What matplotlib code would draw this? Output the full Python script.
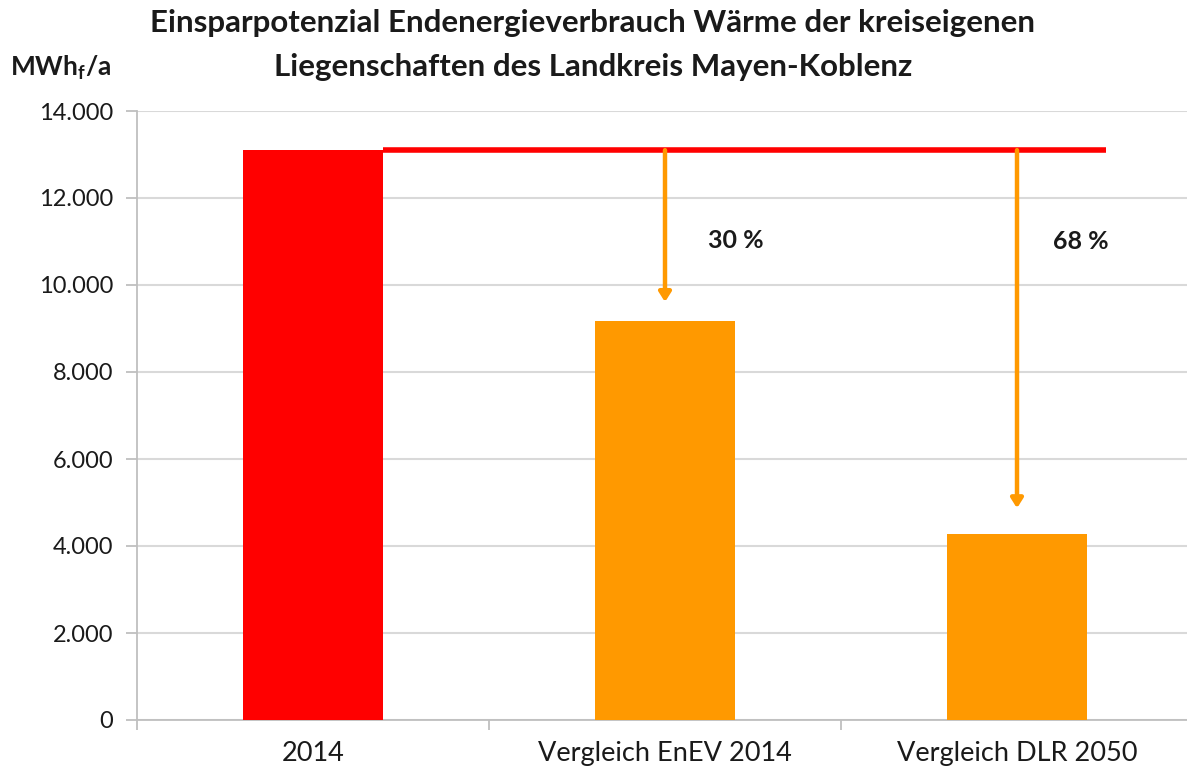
import numpy as np
import matplotlib.pyplot as plt

# chart data
categories = ['2014', 'Vergleich EnEV 2014', 'Vergleich DLR 2050']
verbrauch = [13100, 9170, 4280]
bar_colors = ['#ff0000', '#ff9900', '#ff9900']
arrow_tips = [9610, 4870]
prozent = ['30 %', '68 %']
yticks = [0, 2000, 4000, 6000, 8000, 10000, 12000, 14000]
ytick_labels = ['0', '2.000', '4.000', '6.000', '8.000', '10.000', '12.000', '14.000']

plt.rcParams['font.family'] = ['Lato', 'DejaVu Sans']
plt.rcParams['mathtext.fontset'] = 'custom'
plt.rcParams['mathtext.bf'] = 'Lato:bold'
plt.rcParams['mathtext.rm'] = 'Lato'

fig = plt.figure(figsize=(11.87, 7.74), dpi=100)
ax = fig.add_axes([137 / 1187, 54 / 774, 1056 / 1187, 609 / 774])

x = np.arange(len(categories))
ax.bar(x, verbrauch, width=0.4, color=bar_colors, zorder=3)

# reference line at 2014 level
ax.plot([0.2, 2.253], [verbrauch[0], verbrauch[0]], color='#ff0000', lw=4, zorder=4,
        solid_capstyle='butt')

# arrows down to the savings
for i, tip in enumerate(arrow_tips):
    ax.annotate('', xy=(x[i + 1], tip), xytext=(x[i + 1], verbrauch[0]),
                arrowprops=dict(arrowstyle='-|>,head_length=0.55,head_width=0.35',
                                color='#ff9900', lw=3.2, shrinkA=0, shrinkB=0),
                zorder=4)

ax.text(1.2, 11030, prozent[0], ha='center', va='center', fontsize=18,
        fontweight='bold', color='#1a1a1a')
ax.text(2.18, 10990, prozent[1], ha='center', va='center', fontsize=18,
        fontweight='bold', color='#1a1a1a')

ax.set_xlim(-0.5, 2.5)
ax.set_ylim(0, 14000)
ax.set_yticks(yticks)
ax.set_yticklabels(ytick_labels)
ax.set_xticks(x)
ax.set_xticklabels(categories)
ax.set_xticks([-0.5, 0.5, 1.5, 2.5], minor=True)
ax.tick_params(axis='x', which='major', length=0, pad=15, labelsize=19.5, labelcolor='#1a1a1a')
ax.tick_params(axis='x', which='minor', length=7, width=1.3, color='#bfbfbf')
ax.tick_params(axis='y', length=8, width=1.3, color='#bfbfbf', pad=9,
               labelsize=17, labelcolor='#1a1a1a')

ax.grid(axis='y', color='#d9d9d9', lw=1.5, zorder=0)
for s in ['top', 'right']:
    ax.spines[s].set_visible(False)
ax.spines['left'].set_color('#bfbfbf')
ax.spines['bottom'].set_color('#bfbfbf')
ax.spines['left'].set_linewidth(1.3)
ax.spines['bottom'].set_linewidth(1.3)

fig.text(593 / 1187, 1 - 23 / 774, 'Einsparpotenzial Endenergieverbrauch Wärme der kreiseigenen',
         ha='center', va='center', fontsize=22.5, fontweight='bold', color='#1a1a1a')
fig.text(593 / 1187, 1 - 67 / 774, 'Liegenschaften des Landkreis Mayen-Koblenz',
         ha='center', va='center', fontsize=22.5, fontweight='bold', color='#1a1a1a')
fig.text(10 / 1187, 1 - 68 / 774, r'MWh$\mathbf{_f}$/a', ha='left', va='center',
         fontsize=19, fontweight='bold', color='#1a1a1a')

fig.savefig('out.png', dpi=100)
